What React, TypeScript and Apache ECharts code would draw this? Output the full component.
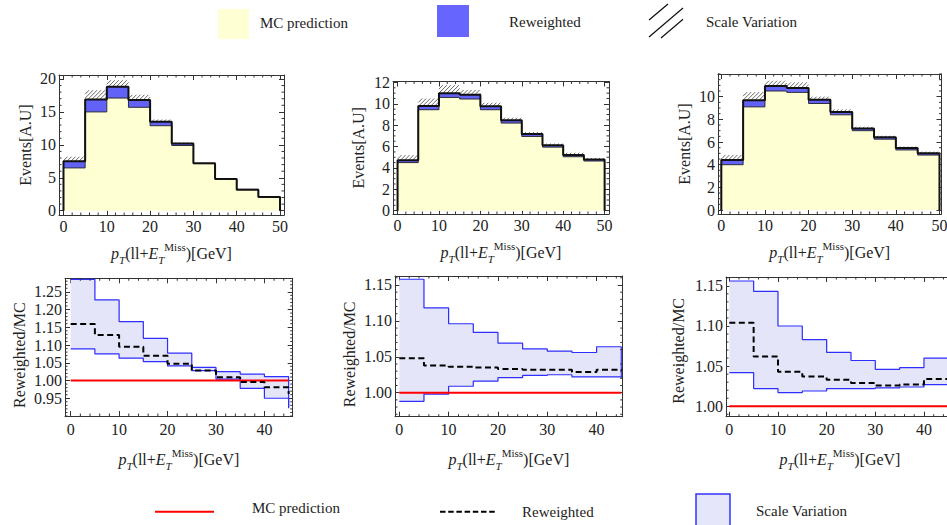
import React, { useEffect, useRef } from "react";
import * as echarts from "echarts";

// ---------------- data ----------------
const HIST_EDGES = [0, 5, 10, 15, 20, 25, 30, 35, 40, 45, 50];

const MC_1 = [6.5, 15.0, 17.1, 15.7, 12.9, 9.9, 7.15, 4.85, 3.25, 2.15];
const REW_1 = [7.5, 16.9, 18.8, 16.8, 13.5, 10.2, 7.22, 4.83, 3.19, 2.07];
const SCALE_UP_1 = [8.2, 18.3, 19.8, 17.6, 13.85, 10.35, 7.3, 4.92, 3.28, 2.12];

const MC_2 = [4.5, 9.45, 10.6, 10.45, 9.45, 8.2, 6.95, 5.95, 5.05, 4.65];
const REW_2 = [4.72, 9.8, 11.0, 10.85, 9.77, 8.47, 7.17, 6.12, 5.2, 4.8];
const SCALE_UP_2 = [5.2, 10.5, 11.75, 11.3, 10.1, 8.7, 7.35, 6.28, 5.42, 4.92];

const MC_3 = [4.0, 9.1, 10.5, 10.38, 9.4, 8.4, 7.0, 6.25, 5.3, 4.85];
const REW_3 = [4.42, 9.68, 10.95, 10.76, 9.72, 8.65, 7.2, 6.42, 5.47, 5.02];
const SCALE_UP_3 = [4.85, 10.4, 11.4, 11.25, 10.0, 8.88, 7.33, 6.55, 5.6, 5.15];

const RATIO_X = [0, 5, 10, 15, 20, 25, 30, 35, 40, 45];

const RATIO_1 = [1.159, 1.128, 1.095, 1.07, 1.047, 1.028, 1.009, 0.996, 0.981, 0.962];
const UPPER_1 = [1.285, 1.227, 1.166, 1.119, 1.077, 1.037, 1.025, 1.018, 1.011, 0.925];
const LOWER_1 = [1.089, 1.075, 1.063, 1.053, 1.041, 1.028, 1.004, 0.978, 0.95, 0.922];

const RATIO_2 = [1.048, 1.038, 1.036, 1.035, 1.033, 1.032, 1.032, 1.029, 1.032, 1.031];
const UPPER_2 = [1.158, 1.118, 1.096, 1.084, 1.069, 1.061, 1.058, 1.056, 1.064, 1.022];
const LOWER_2 = [0.988, 0.998, 1.009, 1.016, 1.021, 1.024, 1.025, 1.022, 1.022, 1.02];

const RATIO_3 = [1.104, 1.062, 1.043, 1.037, 1.033, 1.029, 1.026, 1.027, 1.034, 1.033];
const UPPER_3 = [1.156, 1.143, 1.1, 1.083, 1.067, 1.057, 1.046, 1.048, 1.06, 1.028];
const LOWER_3 = [1.042, 1.022, 1.017, 1.019, 1.022, 1.022, 1.023, 1.024, 1.027, 1.026];

const MC_REFERENCE = 1.0;

const TOP_X_TICKS = [0, 10, 20, 30, 40, 50];
const TL_Y_TICKS = [0, 5, 10, 15, 20];
const TM_Y_TICKS = [0, 2, 4, 6, 8, 10, 12];
const TR_Y_TICKS = [0, 2, 4, 6, 8, 10];
const BOT_X_TICKS = [0, 10, 20, 30, 40];
const BL_Y_TICKS = [0.95, 1.0, 1.05, 1.1, 1.15, 1.2, 1.25];
const BM_Y_TICKS = [1.0, 1.05, 1.1, 1.15];
const BR_Y_TICKS = [1.0, 1.05, 1.1, 1.15];

// ---------------- styles ----------------
const FONT = "'Liberation Serif', 'Times New Roman', Times, serif";
const TEXT = "#222";
const FRAME = "#333";
const YELLOW = "#FFFFD4";
const BLUE = "#6262F6";
const HATCH = "#555";
const BAND = "#E5E5FA";
const BAND_LINE = "#2E2EFF";

const X_TITLE = "{i|p}{sub|T}{n|(ll+}{i|E}{sub|T}{sup|Miss}{n|)[GeV]}";

type Panel = {
  kind: "hist" | "ratio";
  left: number; top: number; width: number; height: number;
  xMin: number; xMax: number; yMin: number; yMax: number;
  xTicks: number[]; yTicks: number[];
  xMinor: number; yMinor: number;
  yName: string; yDec: number;
  labelMargin: number; nameGap: number; yNameGap: number; yNamePad: number;
  a: number[]; b: number[]; c: number[];
};

const PANELS: Panel[] = [
  { kind: "hist", left: 59, top: 75, width: 225, height: 140, xMin: -1.04, xMax: 50.92, yMin: -0.65, yMax: 20.6,
    xTicks: TOP_X_TICKS, yTicks: TL_Y_TICKS, xMinor: 2, yMinor: 1, yName: "Events[A.U]", yDec: 0,
    labelMargin: 3, nameGap: 26, yNameGap: 26, yNamePad: 0, a: MC_1, b: REW_1, c: SCALE_UP_1 },
  { kind: "hist", left: 393, top: 81.5, width: 216, height: 132.5, xMin: -1.1, xMax: 51.06, yMin: -0.31, yMax: 12.09,
    xTicks: TOP_X_TICKS, yTicks: TM_Y_TICKS, xMinor: 2, yMinor: 0.5, yName: "Events[A.U]", yDec: 0,
    labelMargin: 3, nameGap: 26, yNameGap: 27, yNamePad: 0, a: MC_2, b: REW_2, c: SCALE_UP_2 },
  { kind: "hist", left: 718, top: 74, width: 223.5, height: 140, xMin: -0.76, xMax: 50.46, yMin: -0.35, yMax: 12.0,
    xTicks: TOP_X_TICKS, yTicks: TR_Y_TICKS, xMinor: 2, yMinor: 0.5, yName: "Events[A.U]", yDec: 0,
    labelMargin: 3, nameGap: 26, yNameGap: 26, yNamePad: 0, a: MC_3, b: REW_3, c: SCALE_UP_3 },
  { kind: "ratio", left: 65, top: 278.3, width: 227.7, height: 137.7, xMin: -1.17, xMax: 45.84, yMin: 0.9, yMax: 1.288,
    xTicks: BOT_X_TICKS, yTicks: BL_Y_TICKS, xMinor: 2, yMinor: 0.01, yName: "Reweighted/MC", yDec: 2,
    labelMargin: 5, nameGap: 31, yNameGap: 38, yNamePad: 16, a: RATIO_1, b: UPPER_1, c: LOWER_1 },
  { kind: "ratio", left: 395, top: 276, width: 227.7, height: 140.7, xMin: -0.87, xMax: 45.29, yMin: 0.9666, yMax: 1.1625,
    xTicks: BOT_X_TICKS, yTicks: BM_Y_TICKS, xMinor: 2, yMinor: 0.01, yName: "Reweighted/MC", yDec: 2,
    labelMargin: 5, nameGap: 31, yNameGap: 38, yNamePad: 16, a: RATIO_2, b: UPPER_2, c: LOWER_2 },
  { kind: "ratio", left: 726, top: 277, width: 228, height: 139.7, xMin: -0.68, xMax: 46.17, yMin: 0.987, yMax: 1.161,
    xTicks: BOT_X_TICKS, yTicks: BR_Y_TICKS, xMinor: 2, yMinor: 0.01, yName: "Reweighted/MC", yDec: 2,
    labelMargin: 5, nameGap: 31, yNameGap: 40, yNamePad: 8, a: RATIO_3, b: UPPER_3, c: LOWER_3 },
];

// ---------------- helpers ----------------
function minorValues(min: number, max: number, step: number, majors: number[]) {
  const out: number[] = [];
  const start = Math.ceil(min / step - 1e-9);
  for (let k = start; k * step <= max + 1e-9; k++) {
    const v = +(k * step).toFixed(6);
    if (!majors.some((m) => Math.abs(m - v) < 1e-7)) out.push(v);
  }
  return out;
}

function histOutline(edges: number[], vals: number[]) {
  const pts: number[][] = [[edges[0], 0]];
  vals.forEach((v, i) => {
    pts.push([edges[i], v], [edges[i + 1], v]);
  });
  pts.push([edges[edges.length - 1], 0]);
  return pts;
}

function ratioStep(xs: number[], vals: number[]) {
  const pts: number[][] = [];
  for (let i = 0; i < xs.length - 1; i++) {
    pts.push([xs[i], vals[i]], [xs[i + 1], vals[i]]);
  }
  pts.push([xs[xs.length - 1], vals[vals.length - 1]]);
  return pts;
}

const richTitle = {
  fontFamily: FONT, fontSize: 16, color: TEXT, lineHeight: 24,
  rich: {
    i: { fontFamily: FONT, fontSize: 16, fontStyle: "italic", color: TEXT, lineHeight: 24 },
    n: { fontFamily: FONT, fontSize: 16, color: TEXT, lineHeight: 24 },
    sub: { fontFamily: FONT, fontSize: 11, fontStyle: "italic", color: TEXT, lineHeight: 18, verticalAlign: "bottom" },
    sup: { fontFamily: FONT, fontSize: 11, color: TEXT, lineHeight: 12, verticalAlign: "top" },
  },
};

function buildOption() {
  const grid: any[] = [];
  const xAxis: any[] = [];
  const yAxis: any[] = [];
  const series: any[] = [];

  PANELS.forEach((p, gi) => {
    grid.push({ left: p.left, top: p.top, width: p.width, height: p.height, show: false, outerBoundsMode: "none", containLabel: false });
    const xi = xAxis.length;
    const yi = yAxis.length;
    const tickStyle = { color: FRAME, width: 1 };
    const baseX = {
      type: "value", gridIndex: gi, min: p.xMin, max: p.xMax, splitLine: { show: false },
      axisLine: { show: true, onZero: false, lineStyle: tickStyle },
      axisTick: { show: true, inside: true, length: 5, customValues: p.xTicks, lineStyle: tickStyle },
    };
    xAxis.push({
      ...baseX, position: "bottom",
      axisLabel: { show: true, customValues: p.xTicks, margin: p.labelMargin, fontFamily: FONT, fontSize: 16, color: TEXT, formatter: (v: number) => String(v) },
      name: X_TITLE, nameLocation: "middle", nameGap: p.nameGap, nameTextStyle: richTitle,
    });
    xAxis.push({ ...baseX, position: "top", axisLabel: { show: false } });
    const baseY = {
      type: "value", gridIndex: gi, min: p.yMin, max: p.yMax, splitLine: { show: false },
      axisLine: { show: true, onZero: false, lineStyle: tickStyle },
      axisTick: { show: true, inside: true, length: 5, customValues: p.yTicks, lineStyle: tickStyle },
    };
    yAxis.push({
      ...baseY, position: "left",
      axisLabel: { show: true, customValues: p.yTicks, margin: 3, fontFamily: FONT, fontSize: 16, color: TEXT, formatter: (v: number) => v.toFixed(p.yDec) },
      name: p.yName, nameLocation: "middle", nameGap: p.yNameGap,
      nameTextStyle: { fontFamily: FONT, fontSize: 16, color: TEXT, padding: [0, p.yNamePad, 0, 0] },
    });
    yAxis.push({ ...baseY, position: "right", axisLabel: { show: false } });

    const axisRef = { xAxisIndex: xi, yAxisIndex: yi };

    if (p.kind === "hist") {
      const mc = p.a, rew = p.b, up = p.c;
      const nBins = mc.length;
      series.push({
        type: "custom", ...axisRef, z: 2, silent: true,
        data: mc.map((v, i) => [HIST_EDGES[i], HIST_EDGES[i + 1], v, rew[i], up[i], i]),
        encode: { x: [0, 1], y: [2, 3, 4] },
        renderItem: (params: any, api: any) => {
          const x0 = api.value(0), x1 = api.value(1), m = api.value(2), r = api.value(3), u = api.value(4);
          const last = api.value(5) === nBins - 1;
          const b0 = api.coord([x0, 0]);
          const b1 = api.coord([x1, 0]);
          const pm = api.coord([x0, m]);
          const pr = api.coord([x0, r]);
          const pu = api.coord([x0, u]);
          const left = b0[0], right = b1[0], w = right - left;
          const ov = last ? 0 : 0.8;
          const children: any[] = [
            { type: "rect", shape: { x: left, y: pm[1], width: w + ov, height: b0[1] - pm[1] }, style: { fill: YELLOW } },
          ];
          if (r > m) {
            children.push({ type: "rect", shape: { x: left, y: pr[1], width: w, height: pm[1] - pr[1] }, style: { fill: BLUE } });
          }
          const yb = pr[1], yt = pu[1], h = yb - yt;
          if (h > 0.6) {
            for (let sx = left - h; sx < right; sx += 4) {
              const ax = Math.max(sx, left), bx = Math.min(sx + h, right);
              if (bx <= ax) continue;
              children.push({ type: "line", shape: { x1: ax, y1: yb - (ax - sx), x2: bx, y2: yb - (bx - sx) }, style: { stroke: HATCH, lineWidth: 0.9 } });
            }
          }
          return { type: "group", children };
        },
      });
      series.push({
        type: "line", ...axisRef, z: 3, silent: true, symbol: "none", showSymbol: false,
        data: histOutline(HIST_EDGES, mc), lineStyle: { color: "#2a2a3a", width: 1 },
      });
      series.push({
        type: "line", ...axisRef, z: 4, silent: true, symbol: "none", showSymbol: false,
        data: histOutline(HIST_EDGES, rew), lineStyle: { color: "#111", width: 2 },
      });
    } else {
      const ratio = p.a, upper = p.b, lower = p.c;
      const nBand = RATIO_X.length - 1;
      series.push({
        type: "custom", ...axisRef, z: 2, silent: true,
        data: RATIO_X.slice(0, -1).map((x, i) => [x, RATIO_X[i + 1], lower[i], upper[i], i]),
        encode: { x: [0, 1], y: [2, 3] },
        renderItem: (params: any, api: any) => {
          const a = api.coord([api.value(0), api.value(3)]);
          const b = api.coord([api.value(1), api.value(2)]);
          const ov = api.value(4) === nBand - 1 ? 0 : 0.6;
          return { type: "rect", shape: { x: a[0], y: a[1], width: b[0] - a[0] + ov, height: b[1] - a[1] }, style: { fill: BAND } };
        },
      });
      series.push({
        type: "line", ...axisRef, z: 3, silent: true, symbol: "none", showSymbol: false,
        data: ratioStep(RATIO_X, upper), lineStyle: { color: BAND_LINE, width: 1.2 },
      });
      series.push({
        type: "line", ...axisRef, z: 3, silent: true, symbol: "none", showSymbol: false,
        data: ratioStep(RATIO_X, lower), lineStyle: { color: BAND_LINE, width: 1.2 },
      });
      series.push({
        type: "line", ...axisRef, z: 4, silent: true, symbol: "none", showSymbol: false,
        data: [[RATIO_X[0], MC_REFERENCE], [RATIO_X[RATIO_X.length - 1], MC_REFERENCE]],
        lineStyle: { color: "#FF0000", width: 2 },
      });
      series.push({
        type: "line", ...axisRef, z: 5, silent: true, symbol: "none", showSymbol: false,
        data: ratioStep(RATIO_X, ratio), lineStyle: { color: "#000", width: 2, type: [6, 3.5] },
      });
    }

    // minor frame ticks (all four sides)
    const minorData = [
      ...minorValues(p.xMin, p.xMax, p.xMinor, p.xTicks).map((v) => [0, v]),
      ...minorValues(p.yMin, p.yMax, p.yMinor, p.yTicks).map((v) => [1, v]),
    ];
    series.push({
      type: "custom", ...axisRef, z: 6, silent: true, data: minorData, encode: { x: 1, y: 1 },
      renderItem: (params: any, api: any) => {
        const cs = params.coordSys;
        const flag = api.value(0), v = api.value(1);
        const L = 2.5;
        const st = { stroke: FRAME, lineWidth: 1 };
        if (flag === 0) {
          const px = api.coord([v, p.yMin])[0];
          return { type: "group", children: [
            { type: "line", shape: { x1: px, y1: cs.y + cs.height, x2: px, y2: cs.y + cs.height - L }, style: st },
            { type: "line", shape: { x1: px, y1: cs.y, x2: px, y2: cs.y + L }, style: st },
          ] };
        }
        const py = api.coord([p.xMin, v])[1];
        return { type: "group", children: [
          { type: "line", shape: { x1: cs.x, y1: py, x2: cs.x + L, y2: py }, style: st },
          { type: "line", shape: { x1: cs.x + cs.width, y1: py, x2: cs.x + cs.width - L, y2: py }, style: st },
        ] };
      },
    });
  });

  const legText = (x: number, y: number, text: string) => ({
    type: "text", x, y, silent: true,
    style: { text, fontFamily: FONT, fontSize: 15, fill: TEXT, verticalAlign: "middle", align: "left" },
  });

  const graphic: any[] = [
    { type: "rect", silent: true, shape: { x: 218, y: 9, width: 31, height: 30 }, style: { fill: YELLOW } },
    legText(260, 23, "MC prediction"),
    { type: "rect", silent: true, shape: { x: 437, y: 5, width: 32, height: 32 }, style: { fill: "#6666FF" } },
    legText(509, 22, "Reweighted"),
    { type: "line", silent: true, shape: { x1: 649, y1: 20, x2: 668, y2: 4 }, style: { stroke: "#111", lineWidth: 1.2 } },
    { type: "line", silent: true, shape: { x1: 649, y1: 37, x2: 683, y2: 8 }, style: { stroke: "#111", lineWidth: 1.2 } },
    { type: "line", silent: true, shape: { x1: 661, y1: 38, x2: 683, y2: 19.3 }, style: { stroke: "#111", lineWidth: 1.2 } },
    legText(706, 22, "Scale Variation"),
    { type: "line", silent: true, shape: { x1: 155, y1: 511.7, x2: 214, y2: 511.7 }, style: { stroke: "#FF0000", lineWidth: 2 } },
    legText(252, 508, "MC prediction"),
    { type: "line", silent: true, shape: { x1: 440, y1: 511.7, x2: 497, y2: 511.7 }, style: { stroke: "#000", lineWidth: 2, lineDash: [5.5, 2.7] } },
    legText(522, 512, "Reweighted"),
    { type: "rect", silent: true, shape: { x: 696, y: 494, width: 34, height: 40 }, style: { fill: "#E6E6FA", stroke: "#3333FF", lineWidth: 1.5 } },
    legText(756, 511, "Scale Variation"),
  ];

  return { animation: false, backgroundColor: "#fff", grid, xAxis, yAxis, series, graphic };
}

export default function App() {
  const ref = useRef<HTMLDivElement>(null);
  useEffect(() => {
    if (!ref.current) return;
    const chart = echarts.init(ref.current, null, { renderer: "svg" });
    chart.setOption(buildOption() as any);
    return () => chart.dispose();
  }, []);
  return (
    <div
      ref={ref}
      style={{ position: "absolute", left: 0, top: 0, width: 947, height: 525, background: "#fff", overflow: "hidden" }}
    />
  );
}
